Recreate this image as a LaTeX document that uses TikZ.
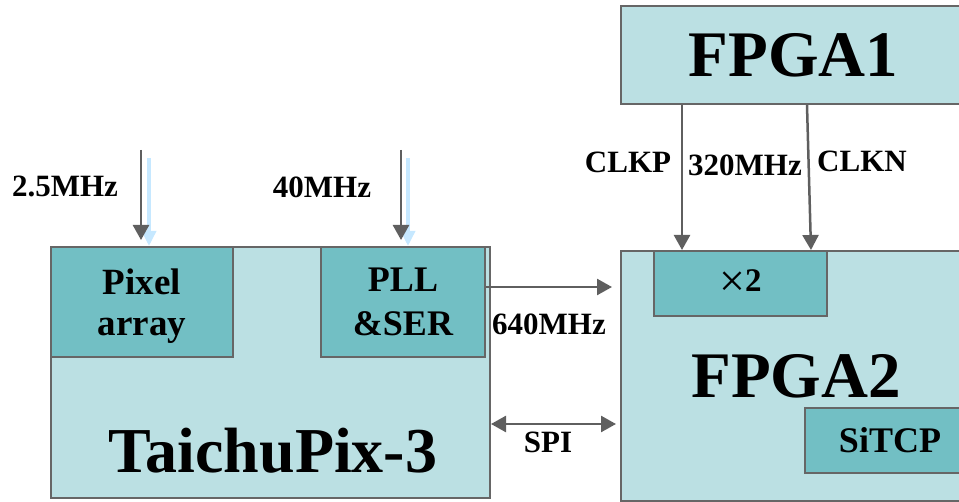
\documentclass[tikz,border=0pt]{standalone}
\usepackage{fontspec}
\setmainfont{Liberation Serif}
\usetikzlibrary{arrows.meta}
\definecolor{boxlight}{HTML}{BBE0E3}
\definecolor{boxdark}{HTML}{72BFC4}
\definecolor{boxline}{HTML}{666666}
\definecolor{arrowgray}{HTML}{5F5F5F}
\definecolor{glowblue}{HTML}{C6E8FF}

\begin{document}
\begin{tikzpicture}[x=1pt,y=-1pt,line width=2pt,
  blk/.style={draw=boxline,fill=boxlight,anchor=north west,inner sep=0pt},
  sub/.style={draw=boxline,fill=boxdark,anchor=north west,inner sep=0pt,align=center},
  conn/.style={draw=arrowgray,line width=2.5pt,-{Triangle[width=16pt,length=15pt]}},
  both/.style={draw=arrowgray,line width=2.5pt,{Triangle[width=16pt,length=15pt]}-{Triangle[width=16pt,length=15pt]}},
  glow/.style={draw=glowblue,line width=3.5pt,-{Triangle[width=14pt,length=15pt]}},
  lbl/.style={anchor=base,inner sep=0pt,font=\fontsize{31}{31}\selectfont\bfseries}]
\clip (0,0) rectangle (959,502);
\node[blk,minimum width=439pt,minimum height=251pt] (chip) at (50,246) {};
\node[sub,minimum width=182pt,minimum height=110pt,font=\fontsize{37}{41}\selectfont\bfseries] (pixel) at (50,246) {\rule{0pt}{34pt}Pixel\\array};
\node[sub,minimum width=164pt,minimum height=110pt,font=\fontsize{36}{44}\selectfont\bfseries] (pll) at (320,246) {PLL\\\&SER};
\node[anchor=base,inner sep=0pt,font=\fontsize{64}{64}\selectfont\bfseries] (chiptxt) at (273,472) {TaichuPix-3};
\node[blk,minimum width=345pt,minimum height=98pt,font=\fontsize{65}{65}\selectfont\bfseries] (fpgaA) at (620,5) {FPGA1};
\node[blk,minimum width=350pt,minimum height=250pt,font=\fontsize{65}{65}\selectfont\bfseries] (fpgaB) at (620,250) {FPGA2};
\node[sub,minimum width=173pt,minimum height=65pt,font=\fontsize{33}{33}\selectfont] (dbl) at (653,250) {\raisebox{-5pt}{\fontsize{46}{46}\selectfont ×}\textbf{2}};
\node[sub,minimum width=170pt,minimum height=65pt,font=\fontsize{36}{36}\selectfont\bfseries] (sitcp) at (804,407) {SiTCP};
\coordinate (pixclk) at (141,150);
\coordinate (pixglow) at (149,158);
\coordinate (pllclk) at (401,150);
\coordinate (pllglow) at (408,158);
\draw[glow] (pixglow) -- (pixglow |- pixel.north);
\draw[glow] (pllglow) -- (pllglow |- pll.north);
\draw[conn,shorten >=6pt] (pixclk) -- (pixclk |- pixel.north);
\draw[conn,shorten >=6pt] (pllclk) -- (pllclk |- pll.north);
\coordinate (serout) at ([yshift=15pt]pll.east);
\draw[conn,shorten >=8pt] (serout) -- (serout -| fpgaB.west);
\coordinate (spiL) at ([yshift=-51.5pt]chip.east);
\draw[both,shorten >=4pt] (spiL) -- (spiL -| fpgaB.west);
\coordinate (clkpIn) at ([xshift=29pt]dbl.north west);
\coordinate (clknIn) at ([xshift=158pt]dbl.north west);
\draw[conn] (clkpIn |- fpgaA.south) -- (clkpIn);
\draw[conn] ([xshift=-4pt]clknIn |- fpgaA.south) -- (clknIn);
\node[lbl] (fa) at (65,197) {2.5MHz};
\node[lbl] (fb) at (322,198) {40MHz};
\node[lbl] (fc) at (549,335) {640MHz};
\node[lbl] (spi) at (548,453) {SPI};
\node[lbl] (clkp) at (628,173) {CLKP};
\node[lbl] (fd) at (745,176) {320MHz};
\node[lbl] (clkn) at (862,172) {CLKN};
\end{tikzpicture}
\end{document}
